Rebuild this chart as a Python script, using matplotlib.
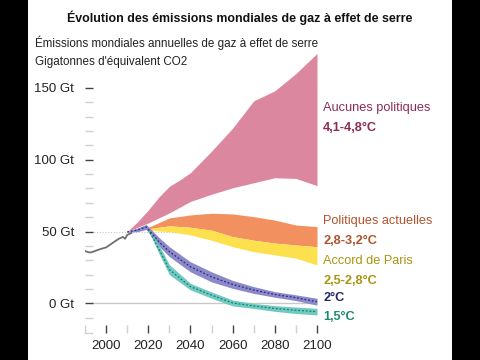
import matplotlib
matplotlib.use("Agg")
import matplotlib.pyplot as plt
from matplotlib.patches import Rectangle
import numpy as np

plt.rcParams['font.family'] = ['Liberation Sans', 'DejaVu Sans']

# historique
hist_years = [1990, 1992, 1993, 1997, 2000, 2003, 2006, 2008, 2009, 2010, 2012]
hist_vals = [36.5, 35.5, 35.6, 37.7, 39, 42, 45, 46.3, 45, 47.7, 49]

# Aucunes politiques
np_years = [2010, 2015, 2020, 2025, 2030, 2035, 2040, 2050, 2060, 2070, 2080, 2090, 2100]
np_high = [50, 57, 65, 74, 81.5, 86, 91, 106, 122, 141, 148, 160, 174]
np_low = [50, 53, 56, 59.5, 63, 67, 71, 76, 80.5, 84, 87.5, 87, 82]

# Politiques actuelles / Accord de Paris
cp_years = [2020, 2030, 2040, 2050, 2060, 2070, 2080, 2090, 2100]
cp_high = [53, 59.5, 61.6, 62.8, 62.3, 60.4, 58, 54.6, 53.5]
cp_low = [52, 54, 53, 51, 46.5, 44, 42, 40.7, 39.5]
pa_low = [51, 50, 47.7, 44, 39.5, 36, 33.8, 31.5, 26.8]

# 2°C
c2_years = [2010, 2015, 2019, 2025, 2030, 2040, 2050, 2060, 2070, 2080, 2090, 2100]
c2_high = [50, 52.5, 55, 46, 39.5, 29, 22, 16, 11.7, 8.2, 6, 3.6]
c2_low = [49.5, 50, 51.5, 40, 32.6, 22, 15, 10.5, 7, 4.3, 2, -1.2]

# 1,5°C
c15_years = [2020, 2025, 2030, 2040, 2050, 2060, 2070, 2080, 2090, 2100]
c15_high = [52, 41, 27, 14, 8, 2.4, 0, -1.5, -2.5, -3.4]
c15_low = [51, 35, 20, 9.4, 3.6, -1.7, -3.5, -5.5, -7, -8]

labels = [
    ("Aucunes politiques", False, 108, '#8e2a56'),
    ("4,1-4,8°C", True, 128, '#8e2a56'),
    ("Politiques actuelles", False, 221, '#b0532b'),
    ("2,8-3,2°C", True, 241, '#b0532b'),
    ("Accord de Paris", False, 261, '#a8950f'),
    ("2,5-2,8°C", True, 281, '#a8950f'),
    ("2°C", True, 298, '#25256f'),
    ("1,5°C", True, 317, '#1f8a70'),
]

fig = plt.figure(figsize=(4.8, 3.6), dpi=100, facecolor='black')
fig.patches.append(Rectangle((28 / 480, 0), 424 / 480, 1, transform=fig.transFigure,
                             facecolor='white', edgecolor='none', zorder=-5))

ax = fig.add_axes([85 / 480, 35 / 360, 232 / 480, 273 / 360])
ax.set_facecolor('none')
ax.set_zorder(2)
ax.set_xlim(1990, 2100)
ax.set_ylim(-15, 175)
for s in ax.spines.values():
    s.set_visible(False)

ax.hlines(0, 1993, 2100, color='#c8c8c8', lw=1, zorder=1)
ax.hlines(50, 1993, 2040, color='#c8c8c8', lw=0.8, ls=(0, (1, 1.5)), zorder=1)

ax.fill_between(np_years, np_low, np_high, color='#dc87a0', lw=0, zorder=2)
ax.fill_between(cp_years, cp_low, cp_high, color='#f2915f', lw=0, zorder=3)
ax.fill_between(cp_years, pa_low, cp_low, color='#fde04d', lw=0, zorder=3)
ax.fill_between(c2_years, c2_low, c2_high, color='#8c89cb', lw=0, zorder=4)
ax.plot(c2_years, (np.array(c2_low) + np.array(c2_high)) / 2, color='#2a2a7c',
        lw=0.9, ls=(0, (1.5, 1.5)), zorder=6)
ax.fill_between(c15_years, c15_low, c15_high, color='#6fcac1', lw=0, zorder=5)
ax.plot(c15_years, (np.array(c15_low) + np.array(c15_high)) / 2, color='#1e7a6d',
        lw=0.9, ls=(0, (1.5, 1.5)), zorder=6)
ax.plot(hist_years, hist_vals, color='#707070', lw=1.3, zorder=6)

ax.set_yticks([0, 50, 100, 150])
ax.set_yticklabels(['0 Gt', '50 Gt', '100 Gt', '150 Gt'])
ax.set_yticks(np.arange(-10, 150, 10), minor=True)
ax.tick_params(axis='y', which='major', direction='in', length=6, width=1,
               color='#444444', pad=8, labelsize=9.5, labelcolor='#222222')
ax.tick_params(axis='y', which='minor', direction='in', length=6, width=1,
               color='#d0d0d0')

ax.set_xticks([2000, 2020, 2040, 2060, 2080, 2100])
ax.set_xticks([1990, 2010, 2030, 2050, 2070, 2090], minor=True)
ax.tick_params(axis='x', which='major', direction='out', length=6, width=1,
               color='#444444', pad=5, labelsize=9.5, labelcolor='#222222')
ax.tick_params(axis='x', which='minor', direction='out', length=6, width=1,
               color='#d0d0d0')
# petit coin en bas à gauche
ax.plot([0, 0.03], [-0.03, -0.03], transform=ax.transAxes, color='#d0d0d0',
        lw=1, clip_on=False)

for text, bold, ypix, col in labels:
    fig.text(323 / 480, 1 - ypix / 360, text, color=col, fontsize=9.2,
             fontweight='bold' if bold else 'normal', va='center', ha='left')

fig.text(240 / 480, 1 - 18 / 360,
         "Évolution des émissions mondiales de gaz à effet de serre",
         fontsize=8.9, fontweight='bold', ha='center', va='center', color='#111111')
fig.text(35 / 480, 1 - 43 / 360,
         "Émissions mondiales annuelles de gaz à effet de serre",
         fontsize=8.4, ha='left', va='center', color='#222222')
fig.text(35 / 480, 1 - 62 / 360, "Gigatonnes d'équivalent CO2",
         fontsize=8.4, ha='left', va='center', color='#222222')

fig.savefig('out.png', dpi=100, facecolor=fig.get_facecolor())
